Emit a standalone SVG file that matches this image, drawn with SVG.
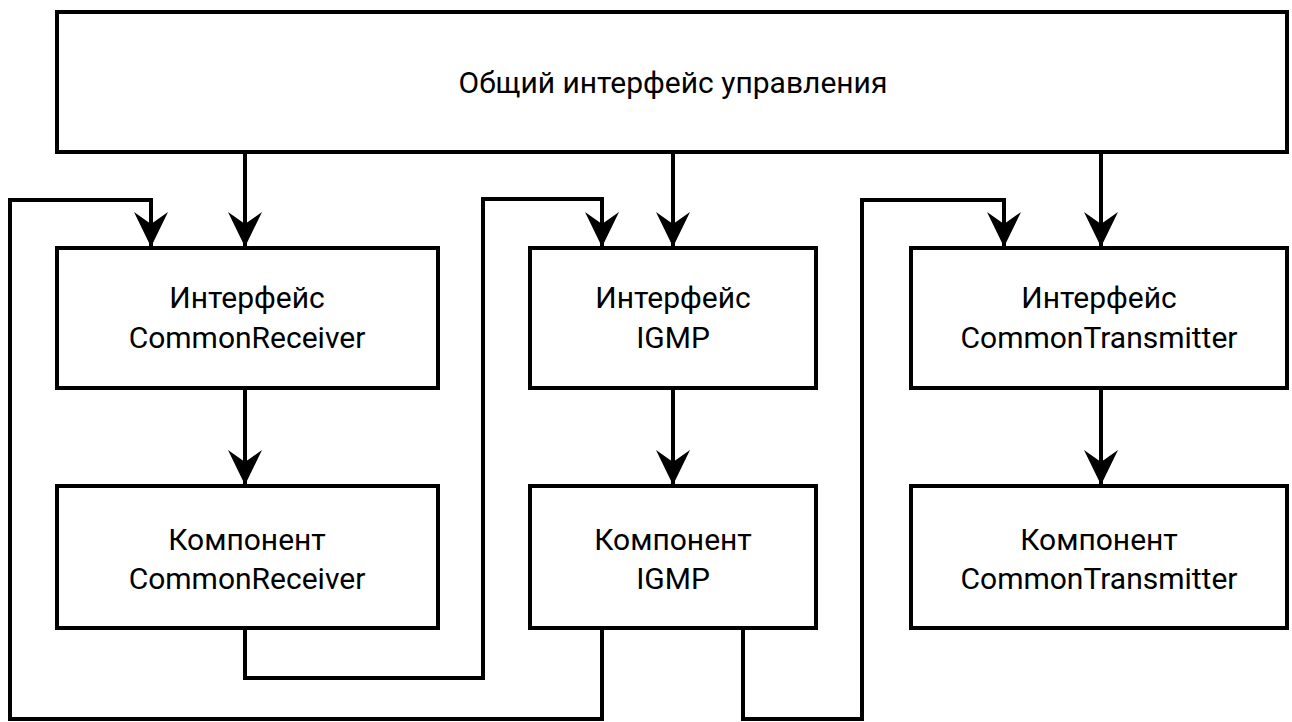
<svg xmlns="http://www.w3.org/2000/svg" width="1292" height="722" viewBox="0 0 1292 722">
<style>
.box{fill:#fff;stroke:#000;stroke-width:4}
.lbl{font-family:Roboto,"Liberation Sans",sans-serif;font-size:30px;fill:#000;text-anchor:middle}
.con{fill:none;stroke:#000;stroke-width:4;marker-end:url(#arr)}
</style>
<defs>
<marker id="arr" markerUnits="userSpaceOnUse" orient="auto" viewBox="-36 -18 37 36" refX="0" refY="0" markerWidth="37" markerHeight="36">
<path d="M0,0 L-35,-17 L-23,0 L-35,17 Z" fill="#000"/>
</marker>
</defs>
<rect width="1292" height="722" fill="#fff"/>
<g id="top">
<rect class="box" x="57" y="12" width="1230" height="140"/>
<text class="lbl" x="673" y="93">Общий интерфейс управления</text>
</g>
<g id="cr-intf">
<rect class="box" x="57" y="248" width="381" height="140"/>
<text class="lbl" x="247" y="308">Интерфейс</text>
<text class="lbl" x="247" y="348">CommonReceiver</text>
</g>
<g id="igmp-intf">
<rect class="box" x="530" y="248" width="286" height="140"/>
<text class="lbl" x="673" y="308">Интерфейс</text>
<text class="lbl" x="673" y="348">IGMP</text>
</g>
<g id="ct-intf">
<rect class="box" x="911" y="248" width="376" height="140"/>
<text class="lbl" x="1099" y="308">Интерфейс</text>
<text class="lbl" x="1099" y="348">CommonTransmitter</text>
</g>
<g id="cr-comp">
<rect class="box" x="57" y="486" width="381" height="142"/>
<text class="lbl" x="247" y="550">Компонент</text>
<text class="lbl" x="247" y="589">CommonReceiver</text>
</g>
<g id="igmp-comp">
<rect class="box" x="530" y="486" width="286" height="142"/>
<text class="lbl" x="673" y="550">Компонент</text>
<text class="lbl" x="673" y="589">IGMP</text>
</g>
<g id="ct-comp">
<rect class="box" x="911" y="486" width="376" height="142"/>
<text class="lbl" x="1099" y="550">Компонент</text>
<text class="lbl" x="1099" y="589">CommonTransmitter</text>
</g>
<g id="connectors">
<path class="con" d="M245,154 V247"/>
<path class="con" d="M673,154 V247"/>
<path class="con" d="M1101,154 V247"/>
<path class="con" d="M245,390 V485"/>
<path class="con" d="M673,390 V485"/>
<path class="con" d="M1101,390 V485"/>
<path class="con" d="M245,630 V678 H483 V199 H602 V247"/>
<path class="con" d="M602,630 V719 H10 V200 H151 V247"/>
<path class="con" d="M743,630 V719 H862 V200 H1004 V247"/>
</g>
</svg>
